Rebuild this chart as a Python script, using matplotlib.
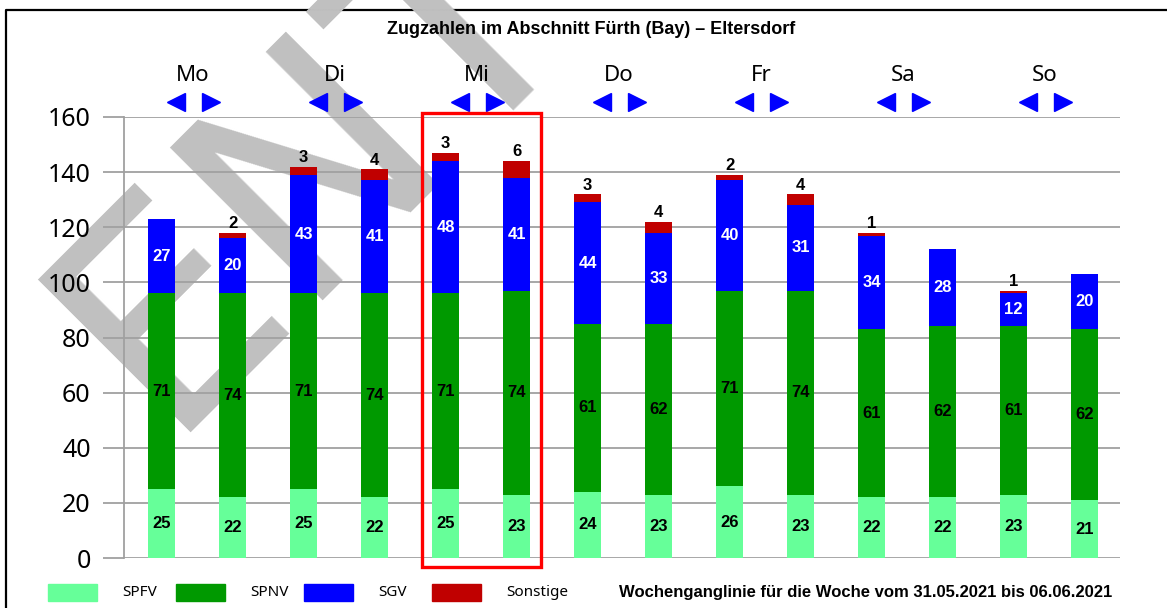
import matplotlib.pyplot as plt
from matplotlib.patches import Rectangle
from matplotlib.lines import Line2D
import numpy as np

plt.rcParams['font.family'] = ['Noto Sans', 'DejaVu Sans']
BOLD = ['Liberation Sans', 'DejaVu Sans']

# data: two bars per day (one per direction)
days = ['Mo', 'Di', 'Mi', 'Do', 'Fr', 'Sa', 'So']
spfv = [25, 22, 25, 22, 25, 23, 24, 23, 26, 23, 22, 22, 23, 21]
spnv = [71, 74, 71, 74, 71, 74, 61, 62, 71, 74, 61, 62, 61, 62]
sgv = [27, 20, 43, 41, 48, 41, 44, 33, 40, 31, 34, 28, 12, 20]
sonstige = [0, 2, 3, 4, 3, 6, 3, 4, 2, 4, 1, 0, 1, 0]
series_names = ['SPFV', 'SPNV', 'SGV', 'Sonstige']
colors = ['#66ff99', '#009900', '#0000ff', '#c00000']
title = 'Zugzahlen im Abschnitt Fürth (Bay) – Eltersdorf'
footer = 'Wochenganglinie für die Woche vom 31.05.2021 bis 06.06.2021'

fig = plt.figure(figsize=(11.67, 6.08), dpi=100)
ax = fig.add_axes([124/1167, 50/608, 996/1167, 441/608])
ax.set_facecolor('none')

x = np.arange(len(spfv))
bottom = np.zeros(len(x))
for vals, col in zip([spfv, spnv, sgv, sonstige], colors):
    ax.bar(x, vals, 0.39, bottom=bottom, color=col, zorder=3)
    bottom = bottom + np.array(vals)

# value labels
b = np.zeros(len(x))
for vals, tc in zip([spfv, spnv, sgv], ['black', 'black', 'white']):
    for i, v in enumerate(vals):
        ax.text(x[i], b[i] + v/2, str(v), ha='center', va='center', color=tc,
                fontsize=12, fontweight='bold', family=BOLD, zorder=4)
    b = b + np.array(vals)
for i, v in enumerate(sonstige):
    if v > 0:
        ax.text(x[i], b[i] + v + 0.6, str(v), ha='center', va='bottom',
                fontsize=12, fontweight='bold', family=BOLD, zorder=4)

ax.set_xlim(-0.53, 13.5)
ax.set_ylim(0, 160)
ax.set_yticks(np.arange(0, 161, 20))
ax.set_xticks([])
ax.yaxis.grid(True, color='#a0a0a0', linewidth=1.3, zorder=1)
ax.set_axisbelow(True)
for s in ['top', 'right', 'bottom']:
    ax.spines[s].set_visible(False)
ax.spines['left'].set_color('#a0a0a0')
ax.spines['left'].set_linewidth(1.3)
ax.tick_params(axis='y', length=15, width=1.3, color='#a0a0a0', pad=9, labelsize=18)

# day headers with direction arrows
for k, d in enumerate(days):
    c = 2*k + 0.5
    ax.text(c - 0.06, 175, d, ha='center', va='center', fontsize=16, clip_on=False)
    ax.plot([c - 0.3], [165.4], marker='<', markersize=13, color='#0000ff',
            linestyle='none', clip_on=False, zorder=5)
    ax.plot([c + 0.2], [165.4], marker='>', markersize=13, color='#0000ff',
            linestyle='none', clip_on=False, zorder=5)

# highlight box around Wednesday
ax.add_patch(Rectangle((3.67, -3.3), 1.67, 164.9, fill=False, edgecolor='#ff0000',
                       linewidth=2.4, clip_on=False, zorder=6))

fig.text(591/1167, 1 - 30/608, title, ha='center', va='center',
         fontsize=13, fontweight='bold', family=BOLD)

# legend row
for k, (name, col) in enumerate(zip(series_names, colors)):
    x0 = (48 + 128*k) / 1167
    fig.add_artist(Rectangle((x0, 1 - 601/608), 49/1167, 17/608,
                             transform=fig.transFigure, color=col))
    fig.text(x0 + 74/1167, 1 - 593/608, name, ha='left', va='center', fontsize=11)
fig.text(866/1167, 1 - 593/608, footer, ha='center', va='center',
         fontsize=12, fontweight='bold', family=BOLD)

# frame
fig.add_artist(Line2D([6/1167, 6/1167, 1], [0, 1 - 10/608, 1 - 10/608],
                      transform=fig.transFigure, color='black', linewidth=1.6, zorder=-2))

# draft watermark
fig.text(162/1167, 1 - 432/608, 'ENTWURF', rotation=45, rotation_mode='anchor',
         ha='left', va='baseline', fontsize=214, color='#c0c0c0',
         family='DejaVu Sans', zorder=-1)

fig.savefig('out.png', dpi=100)
